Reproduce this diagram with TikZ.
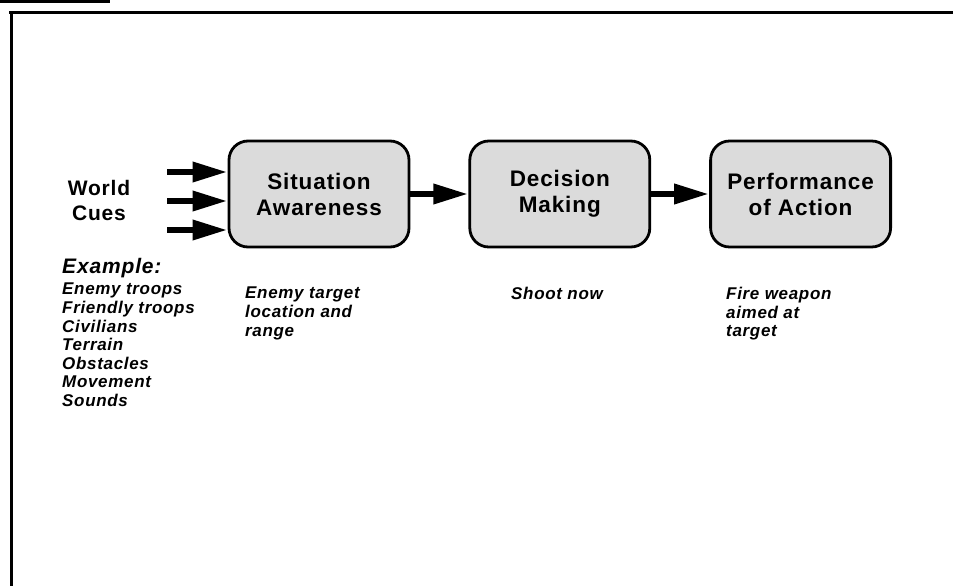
\documentclass[tikz,border=0pt]{standalone}
\usepackage{fontspec}
\setmainfont{Liberation Sans}
\newfontfamily\spacedfont[LetterSpace=4]{Liberation Sans}
\usetikzlibrary{positioning, arrows.meta}
\tikzset{
  stage/.style={draw, line width=2.8pt, rounded corners=19pt, fill=black!14, align=center,
    minimum width=180pt, minimum height=106pt, inner sep=0pt,
    font=\spacedfont\bfseries\fontsize{22.5}{26}\selectfont},
  note/.style={anchor=north west, align=left, inner sep=0pt,
    font=\spacedfont\bfseries\itshape\fontsize{17}{18.6}\selectfont},
  arr/.style={-{Triangle[length=35pt, width=19pt]}, line width=6.5pt},
  frame/.style={line width=3pt},
}
\begin{document}
\begin{tikzpicture}[x=1pt, y=-1pt, node distance=58pt]
\useasboundingbox (0,0) rectangle (953,586);
% frame
\draw[frame] (0,1.5) -- (110,1.5);
\draw[frame] (9,13) -- (953,13);
\draw[frame] (11.5,11.5) -- (11.5,586);
% stages
\node[stage] (sa) at (319,194) {Situation\\Awareness};
\node[stage, right=of sa] (dm) {Decision\\Making};
\node[stage, right=of dm] (pa) {Performance\\of Action};
% cues
\node[align=center, inner sep=0pt, font=\spacedfont\bfseries\fontsize{21}{25}\selectfont] (cues) at (99,200) {World\\Cues};
\coordinate (c1) at (167,172);
\coordinate (c2) at (167,201);
\coordinate (c3) at (167,230);
\draw[arr] (c1) -- (c1 -| sa.west);
\draw[arr] (c2) -- (c2 -| sa.west);
\draw[arr] (c3) -- (c3 -| sa.west);
\draw[arr] (sa) -- (dm);
\draw[arr] (dm) -- (pa);
% examples
\node[note, font=\spacedfont\bfseries\itshape\fontsize{21}{24}\selectfont] (ex) at (62,258) {Example:};
\node[note, below=5pt of ex.south west, anchor=north west] (exlist) {Enemy troops\\Friendly troops\\Civilians\\Terrain\\Obstacles\\Movement\\Sounds};
\node[note] (sanote) at (245,287) {Enemy target\\location and\\range};
\node[note] (dmnote) at (511,287) {Shoot now};
\node[note] (panote) at (726,287) {Fire weapon\\aimed at\\target};
\end{tikzpicture}
\end{document}
